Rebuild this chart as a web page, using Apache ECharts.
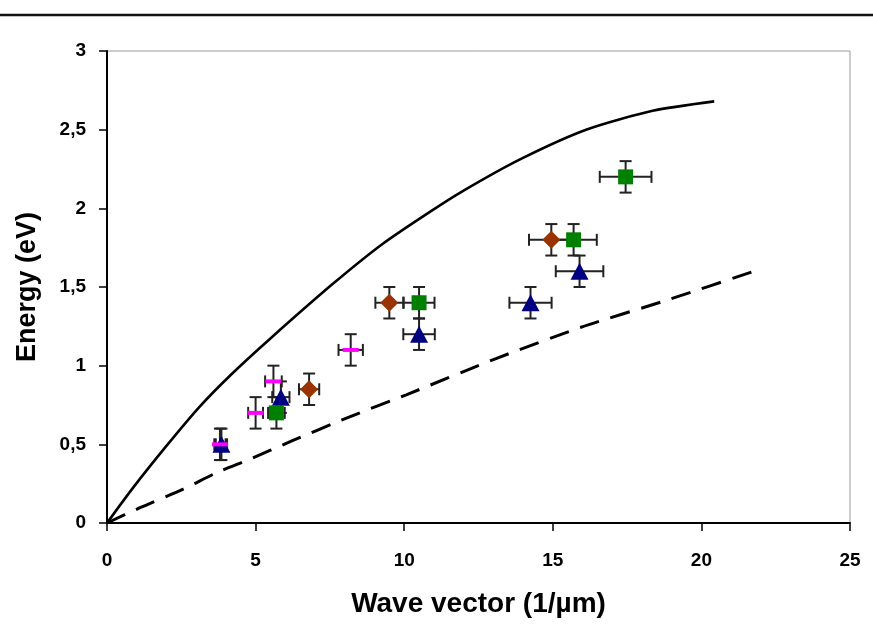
<!DOCTYPE html>
<html>
<head>
<meta charset="utf-8">
<script src="https://cdn.jsdelivr.net/npm/echarts@6/dist/echarts.min.js"></script>
<style>html,body{margin:0;padding:0;background:#fff}#c{width:873px;height:631px}</style>
</head>
<body>
<div id="c"></div>
<script>
// ---- data ----
var xTicks = [0, 5, 10, 15, 20, 25];
var yTickLabels = ['0', '0,5', '1', '1,5', '2', '2,5', '3'];

// solid theoretical curve
var solidX = [0, 0.88, 2.0, 3.12, 4.24, 5.48, 7.6, 9.28, 10.85, 11.97, 13.88, 16.12, 18.36, 20.43];
var solidY = [0, 0.225, 0.49, 0.74, 0.955, 1.17, 1.52, 1.775, 1.976, 2.11, 2.31, 2.50, 2.62, 2.68];
// dashed theoretical curve
var dashX = [0, 1.11, 2.56, 3.69, 4.8, 6.2, 8.1, 10.07, 13.2, 15.95, 18.8, 22.0];
var dashY = [0, 0.097, 0.215, 0.32, 0.405, 0.52, 0.67, 0.815, 1.053, 1.244, 1.414, 1.615];

// measured points
var triX = [3.85, 5.85, 10.5, 14.25, 15.9];
var triY = [0.5, 0.8, 1.2, 1.4, 1.6];
var triXErr = [0.19, 0.29, 0.53, 0.71, 0.8];
var triYErr = [0.1, 0.1, 0.1, 0.1, 0.1];

var sqX = [5.7, 10.5, 15.7, 17.45];
var sqY = [0.7, 1.4, 1.8, 2.2];
var sqXErr = [0.28, 0.52, 0.78, 0.87];
var sqYErr = [0.1, 0.1, 0.1, 0.1];

var diaX = [6.8, 9.5, 14.95];
var diaY = [0.85, 1.4, 1.8];
var diaXErr = [0.34, 0.47, 0.75];
var diaYErr = [0.1, 0.1, 0.1];

var dashMarkX = [3.8, 5.0, 5.6, 8.2];
var dashMarkY = [0.5, 0.7, 0.9, 1.1];
var dashMarkXErr = [0.19, 0.25, 0.28, 0.41];
var dashMarkYErr = [0.1, 0.1, 0.1, 0.1];

// ---- build ----
function pairs(xs, ys) { return xs.map(function (x, i) { return [x, ys[i]]; }); }
function errRows(xs, ys, xe, ye) { return xs.map(function (x, i) { return [x, ys[i], xe[i], ye[i]]; }); }
var errData = [].concat(
  errRows(triX, triY, triXErr, triYErr),
  errRows(sqX, sqY, sqXErr, sqYErr),
  errRows(diaX, diaY, diaXErr, diaYErr),
  errRows(dashMarkX, dashMarkY, dashMarkXErr, dashMarkYErr)
);

var FONT = 'Liberation Sans, Arial, sans-serif';
var CAP = 6;
function renderErr(params, api) {
  var x = api.value(0), y = api.value(1), xe = api.value(2), ye = api.value(3);
  var l = api.coord([x - xe, y]), r = api.coord([x + xe, y]);
  var t = api.coord([x, y + ye]), b = api.coord([x, y - ye]);
  var st = { stroke: '#222', lineWidth: 2 };
  return {
    type: 'group',
    children: [
      { type: 'line', shape: { x1: l[0], y1: l[1], x2: r[0], y2: r[1] }, style: st },
      { type: 'line', shape: { x1: l[0], y1: l[1] - CAP, x2: l[0], y2: l[1] + CAP }, style: st },
      { type: 'line', shape: { x1: r[0], y1: r[1] - CAP, x2: r[0], y2: r[1] + CAP }, style: st },
      { type: 'line', shape: { x1: t[0], y1: t[1], x2: b[0], y2: b[1] }, style: st },
      { type: 'line', shape: { x1: t[0] - CAP, y1: t[1], x2: t[0] + CAP, y2: t[1] }, style: st },
      { type: 'line', shape: { x1: b[0] - CAP, y1: b[1], x2: b[0] + CAP, y2: b[1] }, style: st }
    ]
  };
}

var chart = echarts.init(document.getElementById('c'), null, { renderer: 'canvas' });
chart.setOption({
  animation: false,
  backgroundColor: '#fff',
  graphic: [{
    type: 'line', shape: { x1: 0, y1: 15, x2: 873, y2: 15 },
    style: { stroke: '#111', lineWidth: 2.5 }
  }],
  grid: { left: 107, right: 23, top: 51, bottom: 108, show: true, borderColor: '#9a9a9a', borderWidth: 1 },
  xAxis: {
    type: 'value', min: 0, max: 25, interval: 5,
    name: 'Wave vector (1/µm)', nameLocation: 'middle', nameGap: 67,
    nameTextStyle: { fontFamily: FONT, fontWeight: 'bold', fontSize: 28, color: '#000' },
    axisLine: { lineStyle: { color: '#000', width: 2 } },
    axisTick: { inside: false, length: 8, lineStyle: { color: '#000', width: 1.5 } },
    axisLabel: { margin: 28, fontFamily: FONT, fontWeight: 'bold', fontSize: 19, color: '#000',
      formatter: function (v) { return String(xTicks[Math.round(v / 5)]); } },
    splitLine: { show: false }
  },
  yAxis: {
    type: 'value', min: 0, max: 3, interval: 0.5,
    name: 'Energy (eV)', nameLocation: 'middle', nameGap: 66, nameRotate: 90,
    nameTextStyle: { fontFamily: FONT, fontWeight: 'bold', fontSize: 27, color: '#000' },
    axisLine: { show: true, lineStyle: { color: '#000', width: 2 } },
    axisTick: { show: true, inside: false, length: 8, lineStyle: { color: '#000', width: 1.5 } },
    axisLabel: { margin: 21, fontFamily: FONT, fontWeight: 'bold', fontSize: 19, color: '#000',
      formatter: function (v) { return yTickLabels[Math.round(v / 0.5)]; } },
    splitLine: { show: false }
  },
  series: [
    { type: 'line', data: pairs(solidX, solidY), smooth: 0.25, symbol: 'none',
      lineStyle: { color: '#000', width: 2.6 }, z: 2 },
    { type: 'line', data: pairs(dashX, dashY), smooth: 0.25, symbol: 'none',
      lineStyle: { color: '#000', width: 3, type: [20, 12] }, z: 2 },
    { type: 'custom', data: errData, renderItem: renderErr, z: 3,
      encode: { x: 0, y: 1 } },
    { type: 'scatter', data: pairs(triX, triY), symbol: 'triangle', symbolSize: [18, 17],
      itemStyle: { color: '#000080', opacity: 1 }, z: 4 },
    { type: 'scatter', data: pairs(sqX, sqY), symbol: 'rect', symbolSize: 15,
      itemStyle: { color: '#008000', opacity: 1 }, z: 4 },
    { type: 'scatter', data: pairs(diaX, diaY), symbol: 'diamond', symbolSize: [18, 18],
      itemStyle: { color: '#993300', opacity: 1 }, z: 4 },
    { type: 'scatter', data: pairs(dashMarkX, dashMarkY), symbol: 'rect', symbolSize: [16, 4],
      itemStyle: { color: '#ff00ff', opacity: 1 }, z: 5 }
  ]
});
</script>
</body>
</html>
